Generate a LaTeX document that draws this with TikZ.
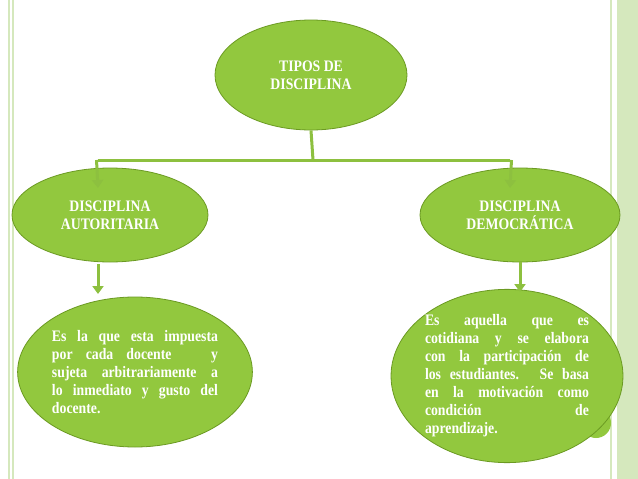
\documentclass[tikz,border=0pt]{standalone}
\usepackage{fontspec}
\setmainfont{Liberation Serif}
\newfontfamily\cfont[FakeStretch=0.86]{Liberation Serif}
\usetikzlibrary{shapes.geometric,arrows.meta}
\definecolor{gfill}{HTML}{92C83E}
\definecolor{gdraw}{HTML}{6B9A22}
\definecolor{garrow}{HTML}{8DC03F}
\definecolor{band}{HTML}{D5E8BD}
\tikzset{
 ell/.style={ellipse,fill=gfill,draw=gdraw,line width=0.8pt,text=white,font=\cfont\bfseries\fontsize{16}{18}\selectfont,align=center,inner sep=0pt},
 para/.style={ell,align=justify},
 conn/.style={draw=garrow,line width=3pt},
 arr/.style={conn,-{Triangle[width=11pt,length=8pt]}}
}
\begin{document}
\begin{tikzpicture}[x=1pt,y=-1pt]
\useasboundingbox (0,0) rectangle (638,479);
\fill[white] (0,0) rectangle (638,479);
\fill[band] (617,0) rectangle (638,479);
\draw[band,line width=1.5pt] (611,0) -- (611,479);
\draw[band,line width=1.5pt] (9,0) -- (9,479);
\draw[band,line width=1.5pt] (13,0) -- (13,479);
\fill[gfill] (596,423) circle (15);
\node[ell,minimum width=192,minimum height=110] (top) at (311,75) {TIPOS DE\\DISCIPLINA};
\node[ell,minimum width=196,minimum height=94] (l) at (110,215) {DISCIPLINA\\AUTORITARIA};
\node[ell,minimum width=200,minimum height=94] (r) at (520,215) {DISCIPLINA\\DEMOCRÁTICA};
\node[para,minimum width=200,minimum height=150,text width=166] (bl) at (135,372) {\hyphenpenalty=10000 Es la que esta impuesta\linebreak por cada docente\ \ \ y\linebreak sujeta arbitrariamente a\linebreak lo inmediato y gusto del\linebreak docente.};
\node[para,minimum width=205,minimum height=172,text width=164] (br) at (507,376) {\hyphenpenalty=10000 Es aquella que es\linebreak cotidiana y se elabora\linebreak con la participación de\linebreak los estudiantes. Se basa\linebreak en la motivación como\linebreak condición de\linebreak aprendizaje.};
\coordinate (j) at (313,160);
\coordinate (jl) at (98,160);
\coordinate (jr) at (510,160);
\draw[conn] (top.south) -- (j);
\draw[conn] (jl) -- (jr);
\draw[arr] ([xshift=-1.5pt]jl) -- (98,188);
\draw[arr] ([xshift=1.5pt]jr) -- (510,188);
\draw[arr] (98,264) -- (98,294);
\draw[arr] (520,262) -- (520,292);
\end{tikzpicture}
\end{document}
